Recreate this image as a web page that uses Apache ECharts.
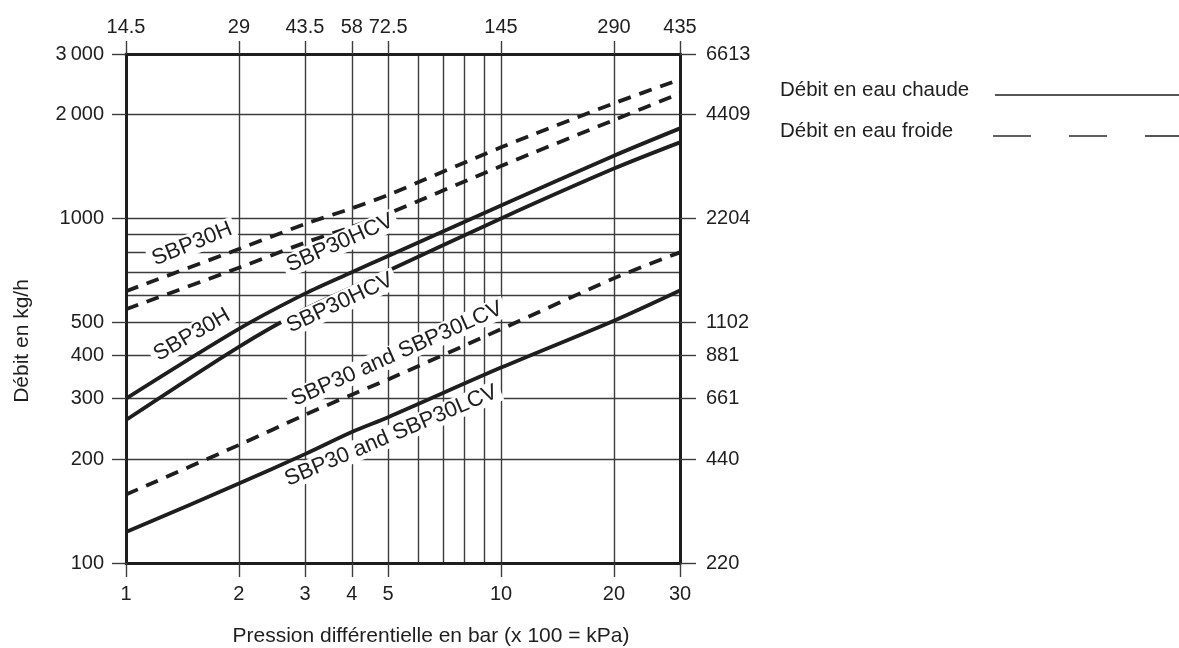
<!DOCTYPE html>
<html><head><meta charset="utf-8">
<script src="https://cdn.jsdelivr.net/npm/echarts@6/dist/echarts.min.js"></script>
<style>html,body{margin:0;padding:0;background:#fff}#c{width:1179px;height:648px}</style>
</head><body><div id="c"></div>
<script>
// ---- data ----
const pressure      = [1, 2, 3, 4, 5, 10, 20, 30];
const hotSBP30H     = [300, 478, 605, 698, 778, 1090, 1520, 1825];
const hotSBP30HCV   = [260, 424, 545, 630, 705, 1000, 1395, 1662];
const hotSBP30LCV   = [123, 170, 207, 240, 265, 369, 505, 618];
const coldSBP30H    = [615, 815, 963, 1070, 1170, 1608, 2158, 2530];
const coldSBP30HCV  = [545, 719, 850, 945, 1033, 1419, 1930, 2307];
const coldSBP30LCV  = [158, 220, 269, 308, 341, 477, 670, 797];

const xLabelValues = [1, 2, 3, 4, 5, 10, 20, 30];
const xTopLabels   = ['14.5', '29', '43.5', '58', '72.5', '145', '290', '435'];
const xGridValues  = [1, 2, 3, 4, 5, 6, 7, 8, 9, 10, 20, 30];
const yLabelValues = [100, 200, 300, 400, 500, 1000, 2000, 3000];
const yLeftLabels  = ['100', '200', '300', '400', '500', '1000', '2\u2009000', '3\u2009000'];
const yRightLabels = ['220', '440', '661', '881', '1102', '2204', '4409', '6613'];
const yGridValues  = [100, 200, 300, 400, 500, 600, 700, 800, 900, 1000, 2000, 3000];

const curveLabels = [
  { text: 'SBP30H',             x: 1.5,  y: 843, rot: 22 },
  { text: 'SBP30H',             x: 1.5,  y: 459, rot: 30 },
  { text: 'SBP30HCV',           x: 3.72, y: 848, rot: 24 },
  { text: 'SBP30HCV',           x: 3.72, y: 568, rot: 25 },
  { text: 'SBP30 and SBP30LCV', x: 5.28, y: 404, rot: 24 },
  { text: 'SBP30 and SBP30LCV', x: 5.09, y: 234, rot: 23 }
];

// ---- chart ----
const FONT = '"Liberation Sans", Arial, Helvetica, sans-serif';
const INK = '#1e1e1e';
const GRIDC = '#3c3c3c';

function pick(vals, labels) {
  return function (v) {
    for (let i = 0; i < vals.length; i++) {
      if (Math.abs(Math.log(v / vals[i])) < 0.01) return labels[i];
    }
    return '';
  };
}

function lineSeries(name, arr, dashed) {
  return {
    name: name, type: 'line', xAxisIndex: 0, yAxisIndex: 0,
    data: pressure.map((p, i) => [p, arr[i]]),
    showSymbol: false, symbol: 'none', smooth: 0.3, z: 5,
    lineStyle: { color: INK, width: 3.8, type: dashed ? [13, 9] : 'solid', cap: 'butt' },
    silent: true
  };
}

const chart = echarts.init(document.getElementById('c'), null, { renderer: 'canvas' });

const labelStyle = { fontFamily: FONT, fontSize: 20, color: INK };

chart.setOption({
  animation: false,
  backgroundColor: '#fff',
  grid: { left: 126, right: 499, top: 54, bottom: 85, containLabel: false },
  xAxis: [
    { // bottom
      type: 'log', logBase: 10, min: 1, max: 30, position: 'bottom',
      axisLine: { show: true, onZero: false, lineStyle: { color: INK, width: 3 } },
      axisTick: { show: true, length: 14, customValues: xLabelValues, lineStyle: { color: GRIDC, width: 1.4 } },
      axisLabel: Object.assign({ customValues: xLabelValues, margin: 21, formatter: pick(xLabelValues, xLabelValues.map(String)) }, labelStyle),
      splitLine: { show: false }, minorTick: { show: false }
    },
    { // top
      type: 'log', logBase: 10, min: 1, max: 30, position: 'top',
      axisLine: { show: true, onZero: false, lineStyle: { color: INK, width: 3 } },
      axisTick: { show: true, length: 13, customValues: xLabelValues, lineStyle: { color: GRIDC, width: 1.4 } },
      axisLabel: Object.assign({ customValues: xLabelValues, margin: 17, formatter: pick(xLabelValues, xTopLabels) }, labelStyle),
      splitLine: { show: false }
    },
    { // grid only
      type: 'log', logBase: 10, min: 1, max: 30, position: 'bottom',
      axisLine: { show: false }, axisLabel: { show: false },
      axisTick: { show: false, customValues: xGridValues },
      splitLine: { show: true, lineStyle: { color: GRIDC, width: 1.4 } }
    }
  ],
  yAxis: [
    { // left
      type: 'log', logBase: 10, min: 100, max: 3000, position: 'left',
      axisLine: { show: true, onZero: false, lineStyle: { color: INK, width: 3 } },
      axisTick: { show: true, length: 14, customValues: yLabelValues, lineStyle: { color: GRIDC, width: 1.4 } },
      axisLabel: Object.assign({ customValues: yLabelValues, margin: 22, formatter: pick(yLabelValues, yLeftLabels) }, labelStyle),
      splitLine: { show: false }
    },
    { // right
      type: 'log', logBase: 10, min: 100, max: 3000, position: 'right',
      axisLine: { show: true, onZero: false, lineStyle: { color: INK, width: 3 } },
      axisTick: { show: true, length: 16, customValues: yLabelValues, lineStyle: { color: GRIDC, width: 1.4 } },
      axisLabel: Object.assign({ customValues: yLabelValues, margin: 26, formatter: pick(yLabelValues, yRightLabels) }, labelStyle),
      splitLine: { show: false }
    },
    { // grid only
      type: 'log', logBase: 10, min: 100, max: 3000, position: 'left',
      axisLine: { show: false }, axisLabel: { show: false },
      axisTick: { show: false, customValues: yGridValues },
      splitLine: { show: true, lineStyle: { color: GRIDC, width: 1.4 } }
    }
  ],
  series: [
    lineSeries('SBP30H froide', coldSBP30H, true),
    lineSeries('SBP30HCV froide', coldSBP30HCV, true),
    lineSeries('SBP30H chaude', hotSBP30H, false),
    lineSeries('SBP30HCV chaude', hotSBP30HCV, false),
    lineSeries('SBP30 and SBP30LCV froide', coldSBP30LCV, true),
    lineSeries('SBP30 and SBP30LCV chaude', hotSBP30LCV, false),
    {
      name: 'labels', type: 'scatter', xAxisIndex: 0, yAxisIndex: 0, z: 10,
      symbolSize: 0, silent: true,
      itemStyle: { color: INK, opacity: 1 },
      data: curveLabels.map(l => ({
        value: [l.x, l.y],
        label: { show: true, position: 'inside', rotate: l.rot, formatter: l.text }
      })),
      label: {
        show: true, position: 'inside', fontFamily: FONT, fontSize: 22, color: INK,
        textBorderWidth: 0, textBorderColor: 'transparent', opacity: 1,
        backgroundColor: '#fff', padding: [0, 4]
      }
    }
  ],
  graphic: [
    { type: 'text', x: 22, y: 341, rotation: Math.PI / 2,
      style: { text: 'Débit en kg/h', font: '21px ' + FONT, fill: INK, textAlign: 'center', textVerticalAlign: 'middle' } },
    { type: 'text', x: 431, y: 636,
      style: { text: 'Pression différentielle en bar (x 100 = kPa)', font: '21px ' + FONT, fill: INK, textAlign: 'center', textVerticalAlign: 'middle' } },
    { type: 'text', x: 780, y: 90,
      style: { text: 'Débit en eau chaude', font: '20.5px ' + FONT, fill: INK, textAlign: 'left', textVerticalAlign: 'middle' } },
    { type: 'text', x: 780, y: 131,
      style: { text: 'Débit en eau froide', font: '20.5px ' + FONT, fill: INK, textAlign: 'left', textVerticalAlign: 'middle' } },
    { type: 'line', shape: { x1: 995, y1: 95, x2: 1179, y2: 95 }, style: { stroke: INK, lineWidth: 1.4 } },
    { type: 'line', shape: { x1: 993, y1: 136, x2: 1179, y2: 136 }, style: { stroke: INK, lineWidth: 1.4, lineDash: [38, 38] } }
  ]
});
</script>
</body></html>
